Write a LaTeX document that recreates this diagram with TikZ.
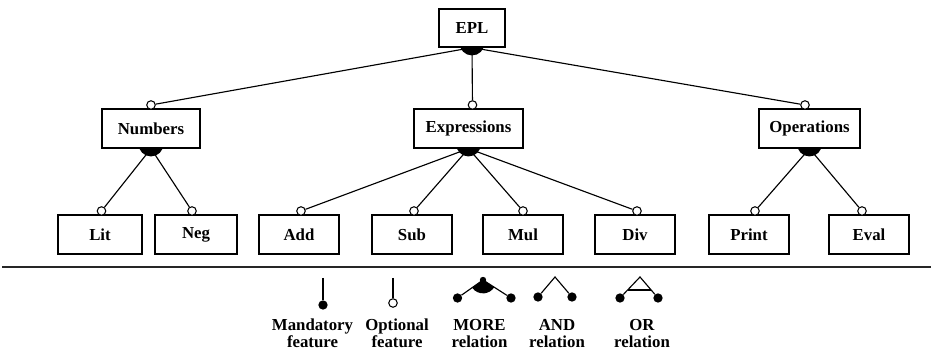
\documentclass[tikz,border=0pt]{standalone}
\usepackage{fontspec}
\setmainfont{Liberation Serif}
\usepackage{tikz}
\usetikzlibrary{calc}
\newcommand{\morecap}[1]{\fill ([xshift=-8.7pt]#1.south) arc[start angle=202, end angle=338, radius=9.4pt] -- cycle;}
\tikzset{
  feat/.style={draw, line width=0.9pt, minimum height=29.25pt, inner sep=0pt, font=\bfseries\fontsize{12.6}{13}\selectfont},
  leaf/.style={feat, minimum width=60pt},
  optional/.style={circle, draw, fill=white, line width=0.8pt, minimum size=6.4pt, inner sep=0pt},
  mandatory/.style={circle, fill=black, minimum size=7pt, inner sep=0pt},
  edge/.style={line width=0.85pt},
  legendtext/.style={align=center, font=\bfseries\fontsize{12.6}{12.75}\selectfont}
}

\begin{document}
\begin{tikzpicture}[x=0.75pt, y=0.75pt]
  \useasboundingbox (0,0) rectangle (933,-352);
  % feature boxes
  \node[feat, minimum width=49.5pt, minimum height=28.5pt] (epl) at (472,-28) {EPL};
  \node[feat, minimum width=73.5pt] (numbers) at (151,-128.5) {Numbers};
  \node[feat, minimum width=81.75pt] (expressions) at (468.5,-128.5) {Expressions};
  \node[feat, minimum width=75.75pt] (operations) at (809.5,-128.5) {Operations};
  \node[leaf, minimum width=63pt] (lit) at (100,-234.5) {Lit};
  \node[leaf, minimum width=61.5pt] (neg) at (196,-234.5) {Neg};
  \node[leaf] (add) at (299,-234.5) {Add};
  \node[leaf] (sub) at (412,-234.5) {Sub};
  \node[leaf] (mul) at (523,-234.5) {Mul};
  \node[leaf] (div) at (635,-234.5) {Div};
  \node[leaf] (print) at (749,-234.5) {Print};
  \node[leaf] (eval) at (869,-234.5) {Eval};
  % optional marks
  \node[optional] (numbers-o) at (151,-105) {};
  \node[optional] (expressions-o) at (472.5,-105) {};
  \node[optional] (operations-o) at (805,-105) {};
  \node[optional] (lit-o) at (101.5,-211) {};
  \node[optional] (neg-o) at (192,-211) {};
  \node[optional] (add-o) at (301,-211) {};
  \node[optional] (sub-o) at (414,-211) {};
  \node[optional] (mul-o) at (523,-211) {};
  \node[optional] (div-o) at (637,-211) {};
  \node[optional] (print-o) at (755,-211) {};
  \node[optional] (eval-o) at (862,-211) {};
  % tree edges
  \foreach \c in {numbers,expressions,operations} \draw[edge] (epl.south) -- (\c-o);
  \foreach \c in {lit,neg} \draw[edge] (numbers.south) -- (\c-o);
  \foreach \c in {add,sub,mul,div} \draw[edge] (expressions.south) -- (\c-o);
  \foreach \c in {print,eval} \draw[edge] (operations.south) -- (\c-o);
  \morecap{epl}
  \morecap{numbers}
  \morecap{expressions}
  \morecap{operations}
  % separator
  \draw[line width=1.2pt, black!85] (2,-267) -- (931,-267);
  % legend: mandatory / optional
  \coordinate (mand-top) at (323,-278);
  \node[mandatory] (mand-dot) at (323,-305) {};
  \draw[edge] (mand-top) -- (mand-dot);
  \coordinate (opt-top) at (393,-278);
  \node[optional] (opt-dot) at (393,-303) {};
  \draw[edge] (opt-top) -- (opt-dot);
  % legend: MORE
  \coordinate (more-apex) at (483,-280);
  \node[mandatory] (more-l) at (457.5,-298) {};
  \node[mandatory] (more-r) at (511,-298) {};
  \draw[edge] (more-l) -- (more-apex) -- (more-r);
  \fill (more-apex) -- ($(more-apex)!10pt!(more-l)$) arc[start angle=215, end angle=327, radius=10pt] -- cycle;
  \fill (more-apex) circle[radius=2.4pt];
  % legend: AND
  \coordinate (and-apex) at (555,-277);
  \node[mandatory] (and-l) at (538,-297) {};
  \node[mandatory] (and-r) at (572,-297) {};
  \draw[edge] (and-l) -- (and-apex) -- (and-r);
  % legend: OR
  \coordinate (or-apex) at (640,-277);
  \node[mandatory] (or-l) at (620,-298) {};
  \node[mandatory] (or-r) at (658,-298) {};
  \draw[edge] (or-l) -- (or-apex) -- (or-r);
  \draw[edge] ($(or-apex)!0.62!(or-l)$) -- ($(or-apex)!0.62!(or-r)$);
  % legend labels
  \node[legendtext] (mand-label) at (312.5,-333.5) {Mandatory\\feature};
  \node[legendtext] (opt-label) at (397,-333.5) {Optional\\feature};
  \node[legendtext] (more-label) at (479.5,-333.5) {MORE\\relation};
  \node[legendtext] (and-label) at (557,-333.5) {AND\\relation};
  \node[legendtext] (or-label) at (642,-333.5) {OR\\relation};
\end{tikzpicture}
\end{document}
